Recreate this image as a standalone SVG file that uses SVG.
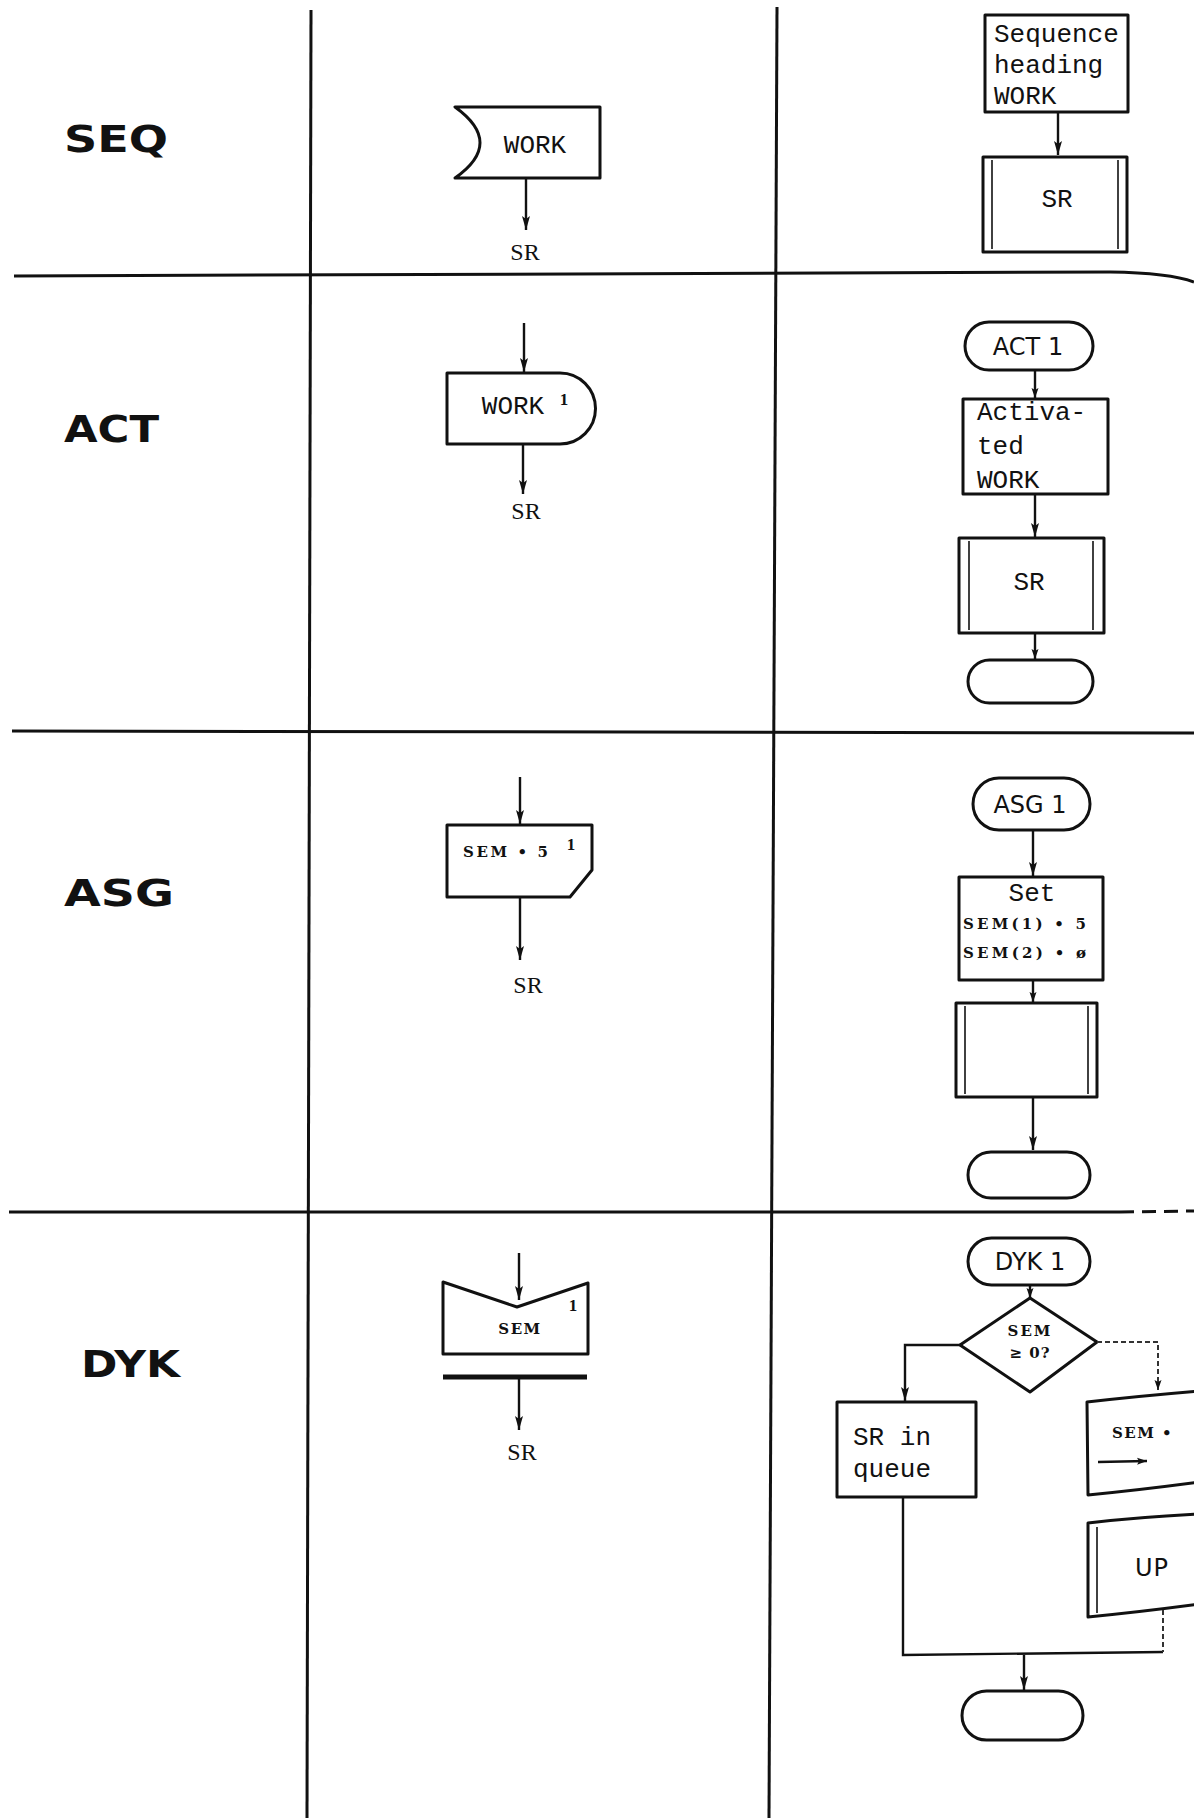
<svg xmlns="http://www.w3.org/2000/svg" width="1194" height="1818" viewBox="0 0 1194 1818">
<style>
.bg{fill:#fff}
.grid{fill:none;stroke:#111;stroke-width:3}
.box{fill:none;stroke:#111;stroke-width:3;stroke-linejoin:round}
.thin{fill:none;stroke:#111;stroke-width:1.6}
.con{fill:none;stroke:#111;stroke-width:2.4}
.faint{fill:none;stroke:#333;stroke-width:2;stroke-dasharray:5 3}
.row{font-family:"DejaVu Sans",sans-serif;font-weight:bold;font-size:37px;fill:#111}
.mono{font-family:"Liberation Mono",monospace;font-size:26px;fill:#111}
.ser{font-family:"Liberation Serif",serif;font-size:24px;fill:#111}
.bs{font-family:"DejaVu Serif",serif;font-weight:bold;font-size:15px;fill:#111}
.sans{font-family:"DejaVu Sans",sans-serif;font-size:24px;fill:#111}
.sup{font-family:"Liberation Serif",serif;font-weight:bold;font-size:17px;fill:#111}
</style>
<defs>
<marker id="ah" viewBox="0 0 14 10" refX="14" refY="5" markerWidth="14" markerHeight="10" markerUnits="userSpaceOnUse" orient="auto">
<path d="M0,1 L14,5 L0,9 L3,5 z" fill="#111"/>
</marker>
<marker id="ahs" viewBox="0 0 10 8" refX="10" refY="4" markerWidth="10" markerHeight="8" markerUnits="userSpaceOnUse" orient="auto">
<path d="M0,0.5 L10,4 L0,7.5 L2,4 z" fill="#111"/>
</marker>
</defs>
<rect class="bg" x="0" y="0" width="1194" height="1818"/>

<g id="grid">
<path class="grid" d="M311,10 L307,1818"/>
<path class="grid" d="M777,7 L769,1818"/>
<path class="grid" d="M14,276 L1110,272 Q1170,273 1194,282"/>
<path class="grid" d="M12,731 L1194,733"/>
<path class="grid" d="M9,1212 L1120,1212"/>
<path class="grid" stroke-dasharray="14 8" d="M1120,1212 L1194,1211"/>
</g>

<g id="row-labels">
<text class="row" x="64" y="152" textLength="104" lengthAdjust="spacingAndGlyphs">SEQ</text>
<text class="row" x="64" y="442" textLength="95" lengthAdjust="spacingAndGlyphs">ACT</text>
<text class="row" x="64" y="906" textLength="110" lengthAdjust="spacingAndGlyphs">ASG</text>
<text class="row" x="81" y="1377" textLength="99" lengthAdjust="spacingAndGlyphs">DYK</text>
</g>

<!-- SEQ -->
<g id="seq-work">
<path class="box" d="M455,107 L600,107 L600,178 L455,178 Q505,143 455,107 z"/>
<text class="mono" x="535" y="153" text-anchor="middle">WORK</text>
</g>
<g id="seq-sr-label"><text class="ser" x="525" y="260" text-anchor="middle">SR</text></g>
<g id="seq-heading">
<rect class="box" x="985" y="15" width="143" height="97"/>
<text class="mono" x="994" y="42">Sequence</text>
<text class="mono" x="994" y="73">heading</text>
<text class="mono" x="994" y="104">WORK</text>
</g>
<g id="seq-sr">
<rect class="box" x="983" y="157" width="144" height="95"/>
<line class="thin" x1="992" y1="160" x2="992" y2="249"/>
<line class="thin" x1="1118" y1="160" x2="1118" y2="249"/>
<text class="mono" x="1057" y="207" text-anchor="middle">SR</text>
</g>

<!-- ACT -->
<g id="act-work">
<path class="box" d="M447,373 L560,373 A35.5,35.5 0 0 1 560,444 L447,444 z"/>
<text class="mono" x="513" y="414" text-anchor="middle">WORK</text>
<text class="sup" x="564" y="405" text-anchor="middle">1</text>
</g>
<g id="act-sr-label"><text class="ser" x="526" y="519" text-anchor="middle">SR</text></g>
<g id="act-start">
<rect class="box" x="965" y="322" width="128" height="48" rx="24"/>
<text class="sans" x="1028" y="355" text-anchor="middle">ACT 1</text>
</g>
<g id="act-activated">
<rect class="box" x="963" y="399" width="145" height="95"/>
<text class="mono" x="977" y="420">Activa-</text>
<text class="mono" x="977" y="454">ted</text>
<text class="mono" x="977" y="488">WORK</text>
</g>
<g id="act-sr">
<rect class="box" x="959" y="538" width="145" height="95"/>
<line class="thin" x1="969" y1="541" x2="969" y2="630"/>
<line class="thin" x1="1093" y1="541" x2="1093" y2="630"/>
<text class="mono" x="1029" y="590" text-anchor="middle">SR</text>
</g>
<g id="act-end"><rect class="box" x="968" y="660" width="125" height="43" rx="21.5"/></g>

<!-- ASG -->
<g id="asg-set">
<path class="box" d="M447,825 L592,825 L592,870 L570,897 L447,897 z"/>
<text class="bs" x="463" y="857" textLength="85" lengthAdjust="spacing">SEM • 5</text>
<text class="sup" x="571" y="850" text-anchor="middle">1</text>
</g>
<g id="asg-sr-label"><text class="ser" x="528" y="993" text-anchor="middle">SR</text></g>
<g id="asg-start">
<rect class="box" x="973" y="778" width="117" height="52" rx="26"/>
<text class="sans" x="1030" y="813" text-anchor="middle">ASG 1</text>
</g>
<g id="asg-setbox">
<rect class="box" x="959" y="877" width="144" height="103"/>
<text class="mono" x="1032" y="901" text-anchor="middle">Set</text>
<text class="bs" x="963" y="929" textLength="123" lengthAdjust="spacing">SEM(1) • 5</text>
<text class="bs" x="963" y="958" textLength="123" lengthAdjust="spacing">SEM(2) • ø</text>
</g>
<g id="asg-sub">
<rect class="box" x="956" y="1003" width="141" height="94"/>
<line class="thin" x1="965" y1="1006" x2="965" y2="1094"/>
<line class="thin" x1="1088" y1="1006" x2="1088" y2="1094"/>
</g>
<g id="asg-end"><rect class="box" x="968" y="1152" width="122" height="46" rx="23"/></g>

<!-- DYK -->
<g id="dyk-wait">
<path class="box" d="M443,1282 L517,1307 L588,1283 L588,1354 L443,1354 z"/>
<text class="bs" x="520" y="1334" text-anchor="middle" font-size="16" letter-spacing="1.5">SEM</text>
<text class="sup" x="573" y="1311" text-anchor="middle">1</text>
</g>
<g id="dyk-bar"><line x1="443" y1="1377" x2="587" y2="1377" stroke="#111" stroke-width="5"/></g>
<g id="dyk-sr-label"><text class="ser" x="522" y="1460" text-anchor="middle">SR</text></g>
<g id="dyk-start">
<rect class="box" x="968" y="1238" width="122" height="47" rx="23.5"/>
<text class="sans" x="1030" y="1270" text-anchor="middle">DYK 1</text>
</g>
<g id="dyk-decision">
<path class="box" d="M1030,1298 L1097,1342 L1030,1392 L960,1345 z"/>
<text class="bs" x="1030" y="1336" text-anchor="middle" font-size="15" letter-spacing="2">SEM</text>
<text class="bs" x="1030" y="1358" text-anchor="middle" font-size="13" letter-spacing="1">≥ 0?</text>
</g>
<g id="dyk-queue">
<rect class="box" x="837" y="1402" width="139" height="95"/>
<text class="mono" x="853" y="1445">SR in</text>
<text class="mono" x="853" y="1477">queue</text>
</g>
<g id="dyk-sem">
<path class="box" d="M1200,1391 Q1140,1396 1087,1402 L1088,1495 Q1140,1490 1200,1482"/>
<text class="bs" x="1112" y="1438" font-size="14" letter-spacing="1.5">SEM •</text>
<line class="con" x1="1098" y1="1462" x2="1147" y2="1461" marker-end="url(#ahs)"/>
</g>
<g id="dyk-up">
<path class="box" d="M1200,1514 Q1140,1517 1088,1523 L1088,1617 Q1140,1612 1200,1604"/>
<line class="thin" x1="1097" y1="1527" x2="1097" y2="1613"/>
<text class="sans" x="1135" y="1576" textLength="33" lengthAdjust="spacing" font-size="20">UP</text>
</g>
<g id="dyk-end"><rect class="box" x="962" y="1691" width="121" height="49" rx="24.5"/></g>

<g id="connectors">
<line class="con" x1="526" y1="178" x2="526" y2="230" marker-end="url(#ah)"/>
<line class="con" x1="1058" y1="112" x2="1058" y2="155" marker-end="url(#ah)"/>
<line class="con" x1="524" y1="323" x2="524" y2="372" marker-end="url(#ah)"/>
<line class="con" x1="523" y1="444" x2="523" y2="494" marker-end="url(#ah)"/>
<line class="con" x1="1035" y1="370" x2="1035" y2="398" marker-end="url(#ahs)"/>
<line class="con" x1="1035" y1="494" x2="1035" y2="537" marker-end="url(#ah)"/>
<line class="con" x1="1035" y1="633" x2="1035" y2="659" marker-end="url(#ahs)"/>
<line class="con" x1="520" y1="777" x2="520" y2="824" marker-end="url(#ah)"/>
<line class="con" x1="520" y1="897" x2="520" y2="960" marker-end="url(#ah)"/>
<line class="con" x1="1033" y1="830" x2="1033" y2="876" marker-end="url(#ah)"/>
<line class="con" x1="1033" y1="980" x2="1033" y2="1002" marker-end="url(#ahs)"/>
<line class="con" x1="1033" y1="1097" x2="1033" y2="1150" marker-end="url(#ah)"/>
<line class="con" x1="519" y1="1253" x2="519" y2="1300" marker-end="url(#ah)"/>
<line class="con" x1="519" y1="1377" x2="519" y2="1430" marker-end="url(#ah)"/>
<line class="con" x1="1030" y1="1285" x2="1030" y2="1298" marker-end="url(#ahs)"/>
<path class="con" d="M960,1345 L905,1345 L905,1401" marker-end="url(#ah)"/>
<path class="faint" d="M1097,1342 L1158,1342 L1158,1390" marker-end="url(#ahs)"/>
<path class="con" d="M903,1497 L903,1655 L1163,1652"/>
<path class="faint" d="M1163,1610 L1163,1652"/>
<line class="con" x1="1024" y1="1655" x2="1024" y2="1690" marker-end="url(#ah)"/>
</g>
</svg>
